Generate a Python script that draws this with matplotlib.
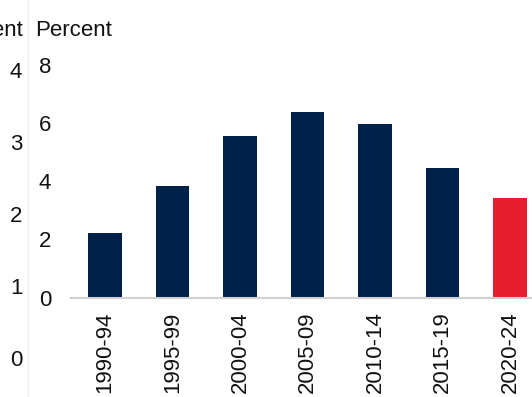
import matplotlib
matplotlib.use("Agg")
import matplotlib.pyplot as plt
from matplotlib.lines import Line2D

plt.rcParams['font.family'] = ['Liberation Sans', 'DejaVu Sans']

# Average annual rate by five-year period
periods = ["1990-94", "1995-99", "2000-04", "2005-09", "2010-14", "2015-19", "2020-24"]
values = [2.21, 3.84, 5.57, 6.37, 5.98, 4.45, 3.42]
bar_colors = ["#00224A"] * 6 + ["#E61E2E"]

right_ticks = [0, 2, 4, 6, 8]
left_ticks = [0, 1, 2, 3, 4]

W, H = 532, 397
fig = plt.figure(figsize=(W / 100, H / 100), dpi=100)

# Main bar panel
ax = fig.add_axes([71.25 / W, 99.5 / H, 472.5 / W, 232.5 / H])
x = list(range(len(periods)))
ax.bar(x, values, width=0.5, color=bar_colors, zorder=2)
ax.set_xlim(-0.5, len(periods) - 0.5)
ax.set_ylim(0, 8)
ax.set_yticks(right_ticks)
ax.set_xticks(x)
ax.set_xticklabels(periods, rotation=90)
for side in ("top", "right", "left"):
    ax.spines[side].set_visible(False)
ax.spines["bottom"].set_color("#d0d0d0")
ax.spines["bottom"].set_linewidth(1.5)
ax.spines["bottom"].set_zorder(3)
ax.tick_params(axis="y", length=0, labelsize=16, pad=14.4, colors="#111111")
ax.tick_params(axis="x", length=0, labelsize=16, pad=10, colors="#111111")
fig.text(35 / W, 1 - 30 / H, "Percent", ha="left", va="center", fontsize=16, color="#111111")

# Neighbouring panel's right-hand axis
ax2 = fig.add_axes([-0.3, 38.5 / H, 0.3, 289 / H])
ax2.patch.set_visible(False)
ax2.set_ylim(0, 4)
ax2.set_yticks(left_ticks)
ax2.set_xticks([])
ax2.yaxis.tick_right()
for side in ("top", "right", "left", "bottom"):
    ax2.spines[side].set_visible(False)
ax2.tick_params(axis="y", length=0, labelsize=16, pad=7.2, colors="#111111")
fig.text(23 / W, 1 - 30 / H, "Percent", ha="right", va="center", fontsize=16, color="#111111")

# Thin separator between panels
fig.add_artist(Line2D([28.3 / W, 28.3 / W], [0, 1], transform=fig.transFigure,
                      color="#eeeeee", linewidth=1))

fig.savefig("out.png", dpi=100)
